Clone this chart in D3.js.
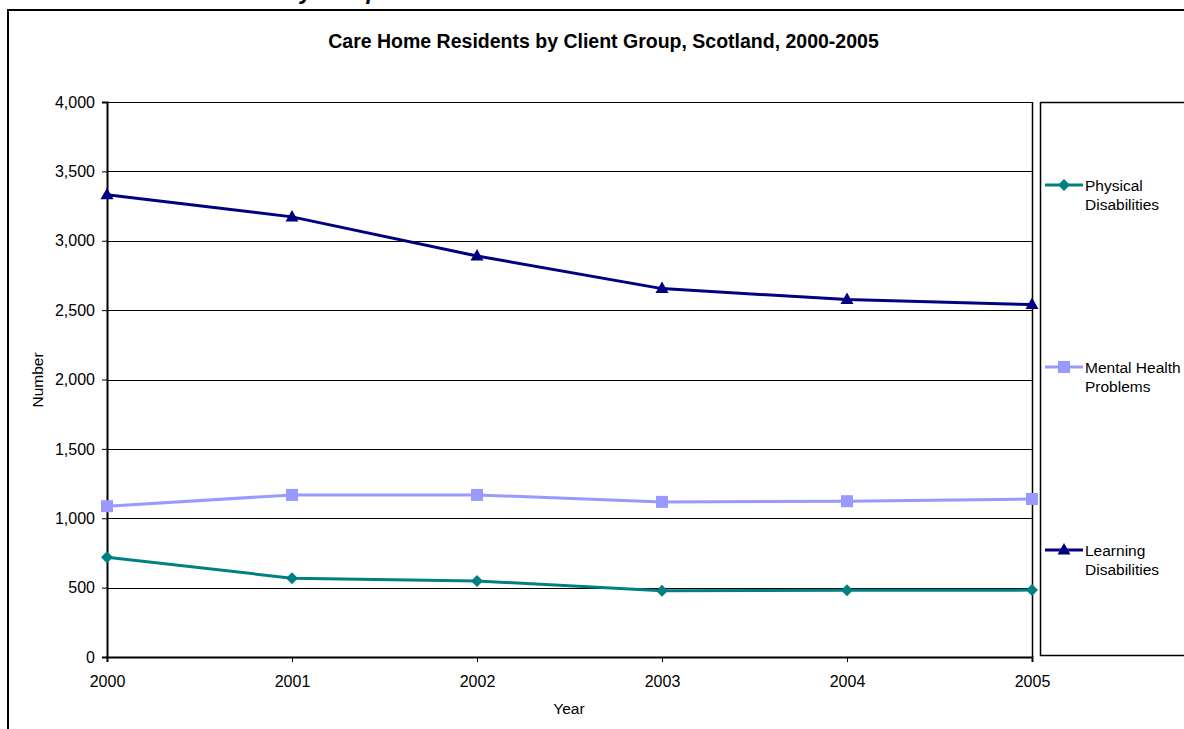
<!DOCTYPE html>
<html>
<head>
<meta charset="utf-8">
<script src="https://cdn.jsdelivr.net/npm/d3@7"></script>
<style>
  html, body { margin: 0; padding: 0; background: #fff; }
  svg { display: block; font-family: Arial, "Liberation Sans", sans-serif; }
</style>
</head>
<body>
<svg id="chart" width="1184" height="729"></svg>
<script>
// ---- data ----
const years = [2000, 2001, 2002, 2003, 2004, 2005];
const physicalDisabilities = [719, 568, 548, 477, 481, 482];
const mentalHealthProblems = [1087, 1168, 1168, 1118, 1123, 1139];
const learningDisabilities = [3332, 3172, 2890, 2655, 2576, 2540];
const seriesNames = ["Physical Disabilities", "Mental Health Problems", "Learning Disabilities"];
const legendLines = [["Physical", "Disabilities"], ["Mental Health", "Problems"], ["Learning", "Disabilities"]];
const yTicks = [0, 500, 1000, 1500, 2000, 2500, 3000, 3500, 4000];
const chartTitle = "Care Home Residents by Client Group, Scotland, 2000-2005";
const xTitle = "Year";
const yTitle = "Number";

const colors = ["#008080", "#9999FF", "#000080"];
const markers = ["diamond", "square", "triangle"];
const seriesValues = [physicalDisabilities, mentalHealthProblems, learningDisabilities];

const svg = d3.select("#chart");
const L = 107, R = 1032, T = 102, B = 657;

const x = d3.scalePoint().domain(years).range([L, R]);
const y = d3.scaleLinear().domain([0, 4000]).range([B, T]);

// cut-off heading remnants at very top (only descenders visible in the reference)
svg.append("text").attr("x", 300).attr("y", -1)
  .attr("font-size", 23).attr("font-weight", "bold").attr("font-style", "italic")
  .text("y and p");

// outer frame
svg.append("rect").attr("x", 8).attr("y", 10).attr("width", 1300).attr("height", 900)
  .attr("fill", "none").attr("stroke", "#000").attr("stroke-width", 2);

// title
svg.append("text").attr("x", 603.5).attr("y", 48).attr("text-anchor", "middle")
  .attr("font-size", 19.5).attr("font-weight", "bold").text(chartTitle);

// gridlines
svg.append("g").selectAll("line").data(yTicks.filter(d => d > 0 && d < 4000)).join("line")
  .attr("x1", L).attr("x2", R)
  .attr("y1", d => Math.round(y(d)) + 0.5).attr("y2", d => Math.round(y(d)) + 0.5)
  .attr("stroke", "#000").attr("stroke-width", 1);

// plot border top/right
svg.append("line").attr("x1", L).attr("x2", R).attr("y1", T + 0.5).attr("y2", T + 0.5)
  .attr("stroke", "#000").attr("stroke-width", 1);
svg.append("line").attr("x1", R + 0.5).attr("x2", R + 0.5).attr("y1", T).attr("y2", B)
  .attr("stroke", "#000").attr("stroke-width", 1.5);

// y axis
const yAxis = d3.axisLeft(y).tickValues(yTicks).tickFormat(d3.format(",")).tickSize(5).tickPadding(7);
const gy = svg.append("g").attr("transform", `translate(${L},0)`).call(yAxis);
gy.select(".domain").attr("stroke", "#000").attr("stroke-width", 2);
gy.selectAll(".tick line").attr("stroke", "#000");
gy.selectAll(".tick text").attr("font-size", 16).attr("fill", "#000")
  .attr("font-family", "Arial, 'Liberation Sans', sans-serif");

// x axis
const xAxis = d3.axisBottom(x).tickSize(5).tickPadding(14);
const gx = svg.append("g").attr("transform", `translate(0,${B})`).call(xAxis);
gx.select(".domain").attr("stroke", "#000").attr("stroke-width", 2);
gx.selectAll(".tick line").attr("stroke", "#000");
gx.selectAll(".tick text").attr("font-size", 16).attr("fill", "#000")
  .attr("font-family", "Arial, 'Liberation Sans', sans-serif");

// axis titles
svg.append("text").attr("x", 569).attr("y", 714).attr("text-anchor", "middle")
  .attr("font-size", 15.5).text(xTitle);
svg.append("text").attr("transform", "translate(43,380) rotate(-90)").attr("text-anchor", "middle")
  .attr("font-size", 15.5).text(yTitle);

// marker generator
function drawMarker(g, type, cx, cy, color) {
  if (type === "diamond") {
    const s = 6;
    g.append("path").attr("d", `M${cx},${cy - s}L${cx + s},${cy}L${cx},${cy + s}L${cx - s},${cy}Z`).attr("fill", color);
  } else if (type === "square") {
    const s = 6;
    g.append("rect").attr("x", cx - s).attr("y", cy - s).attr("width", 2 * s).attr("height", 2 * s).attr("fill", color);
  } else {
    g.append("path").attr("d", `M${cx},${cy - 7}L${cx + 6.5},${cy + 4.5}L${cx - 6.5},${cy + 4.5}Z`).attr("fill", color);
  }
}

const line = d3.line().x((d, i) => x(years[i])).y(d => y(d));

seriesValues.forEach((vals, si) => {
  const g = svg.append("g");
  g.append("path").attr("d", line(vals)).attr("fill", "none")
    .attr("stroke", colors[si]).attr("stroke-width", 3).attr("stroke-linejoin", "round");
  vals.forEach((v, i) => drawMarker(g, markers[si], x(years[i]), y(v), colors[si]));
});

// legend
svg.append("rect").attr("x", 1040.5).attr("y", 102.5).attr("width", 300).attr("height", 553)
  .attr("fill", "none").attr("stroke", "#000").attr("stroke-width", 1.5);
const legendY = [185, 367, 550];
seriesNames.forEach((name, si) => {
  const g = svg.append("g");
  const ly = legendY[si];
  g.append("line").attr("x1", 1045).attr("x2", 1083).attr("y1", ly).attr("y2", ly)
    .attr("stroke", colors[si]).attr("stroke-width", 3);
  drawMarker(g, markers[si], 1064, ly, colors[si]);
  const t = g.append("text").attr("x", 1085).attr("y", ly + 5.5).attr("font-size", 15.5);
  legendLines[si].forEach((ln, k) => {
    t.append("tspan").attr("x", 1085).attr("dy", k === 0 ? 0 : 19.5).text(ln);
  });
});
</script>
</body>
</html>
